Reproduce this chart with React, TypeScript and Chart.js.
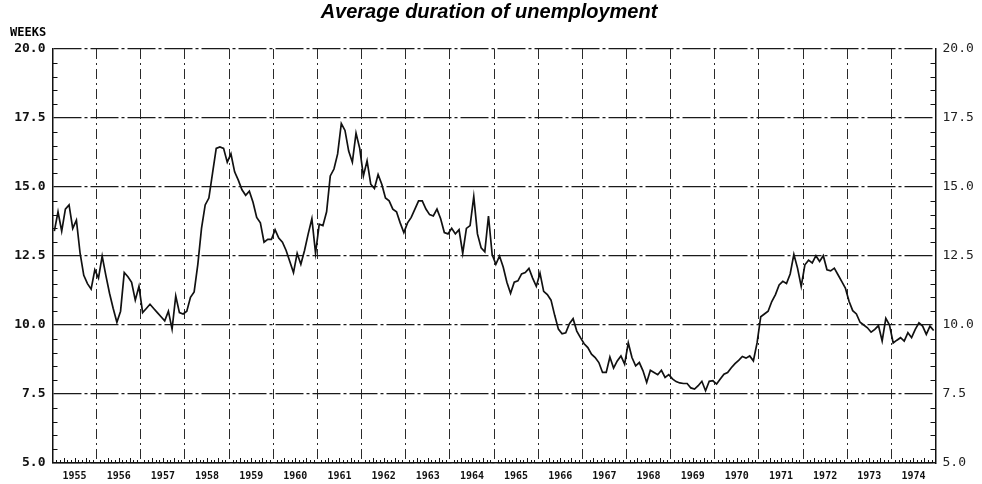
import React, { useEffect, useRef } from "react";
import { Chart, registerables } from "chart.js";

Chart.register(...registerables);

const TITLE = "Average duration of unemployment";
const UNIT_LABEL = "WEEKS";
const YEARS = [
  "1955", "1956", "1957", "1958", "1959", "1960", "1961", "1962", "1963", "1964",
  "1965", "1966", "1967", "1968", "1969", "1970", "1971", "1972", "1973", "1974",
];
const Y_TICKS = [5, 7.5, 10, 12.5, 15, 17.5, 20];

// Monthly average duration of unemployment (weeks)
const d1955 = [13.4, 14.1, 13.4, 14.2, 14.35, 13.5, 13.8, 12.6, 11.8, 11.5, 11.3, 12.0];
const d1956 = [11.7, 12.5, 11.8, 11.15, 10.6, 10.1, 10.5, 11.9, 11.75, 11.55, 10.9, 11.4];
const d1957 = [10.45, 10.6, 10.75, 10.6, 10.45, 10.3, 10.15, 10.5, 9.85, 11.05, 10.45, 10.4];
const d1958 = [10.5, 11.0, 11.2, 12.2, 13.5, 14.35, 14.6, 15.5, 16.4, 16.45, 16.4, 15.9];
const d1959 = [16.2, 15.55, 15.25, 14.9, 14.7, 14.85, 14.45, 13.9, 13.7, 13.0, 13.1, 13.1];
const d1960 = [13.45, 13.15, 13.0, 12.7, 12.3, 11.9, 12.6, 12.2, 12.7, 13.3, 13.85, 12.6];
const d1961 = [13.65, 13.6, 14.1, 15.4, 15.65, 16.2, 17.3, 17.05, 16.3, 15.9, 16.95, 16.4];
const d1962 = [15.4, 15.95, 15.1, 14.95, 15.45, 15.1, 14.6, 14.5, 14.2, 14.1, 13.7, 13.35];
const d1963 = [13.7, 13.9, 14.2, 14.5, 14.5, 14.2, 14.0, 13.95, 14.2, 13.85, 13.35, 13.3];
const d1964 = [13.5, 13.3, 13.45, 12.6, 13.5, 13.6, 14.65, 13.3, 12.8, 12.65, 13.95, 12.55];
const d1965 = [12.2, 12.5, 12.1, 11.55, 11.15, 11.55, 11.6, 11.85, 11.9, 12.05, 11.7, 11.4];
const d1966 = [11.88, 11.22, 11.1, 10.9, 10.35, 9.85, 9.68, 9.72, 10.05, 10.23, 9.78, 9.54];
const d1967 = [9.32, 9.18, 8.94, 8.82, 8.64, 8.28, 8.28, 8.84, 8.44, 8.7, 8.88, 8.58];
const d1968 = [9.35, 8.82, 8.52, 8.64, 8.34, 7.92, 8.36, 8.28, 8.2, 8.36, 8.1, 8.2];
const d1969 = [8.05, 7.95, 7.9, 7.88, 7.88, 7.72, 7.68, 7.8, 7.96, 7.62, 7.96, 7.98];
const d1970 = [7.86, 8.04, 8.22, 8.28, 8.45, 8.6, 8.72, 8.86, 8.8, 8.88, 8.7, 9.35];
const d1971 = [10.3, 10.4, 10.5, 10.85, 11.1, 11.45, 11.58, 11.5, 11.85, 12.56, 12.06, 11.4];
const d1972 = [12.18, 12.35, 12.25, 12.51, 12.3, 12.51, 12.0, 11.96, 12.06, 11.82, 11.58, 11.34];
const d1973 = [10.86, 10.52, 10.4, 10.1, 10.0, 9.9, 9.74, 9.84, 9.98, 9.42, 10.24, 10.0];
const d1974 = [9.35, 9.45, 9.54, 9.42, 9.72, 9.54, 9.84, 10.08, 9.96, 9.66, 9.96, 9.8];

const SERIES = [
  ...d1955, ...d1956, ...d1957, ...d1958, ...d1959, ...d1960, ...d1961,
  ...d1962, ...d1963, ...d1964, ...d1965, ...d1966, ...d1967, ...d1968,
  ...d1969, ...d1970, ...d1971, ...d1972, ...d1973, ...d1974,
];

const MONO = '"DejaVu Sans Mono", "Liberation Mono", monospace';

export default function App() {
  const ref = useRef<HTMLCanvasElement | null>(null);

  useEffect(() => {
    document.body.style.margin = "0";
    const canvas = ref.current;
    if (!canvas) return;

    const nMonths = YEARS.length * 12;
    const points = SERIES.map((v, i) => ({ x: i + 0.5, y: v }));
    const xTickValues: number[] = [];
    for (let i = 0; i <= YEARS.length; i++) {
      xTickValues.push(i * 12);
      if (i < YEARS.length) xTickValues.push(i * 12 + 6);
    }

    const decor = {
      id: "decor",
      afterDraw(chart: any) {
        const { ctx, chartArea: a, scales } = chart;
        const xs = scales.x;
        const ys = scales.y;
        ctx.save();
        ctx.strokeStyle = "#111";
        ctx.lineWidth = 1;
        ctx.beginPath();
        for (let m = 1; m < nMonths; m++) {
          if (m % 12 === 0) continue;
          const px = Math.round(xs.getPixelForValue(m)) + 0.5;
          const len = m % 3 === 0 ? 5 : 3;
          ctx.moveTo(px, a.bottom);
          ctx.lineTo(px, a.bottom - len);
        }
        for (let v = 5.5; v < 20; v += 0.5) {
          if (Math.abs(v / 2.5 - Math.round(v / 2.5)) < 1e-6) continue;
          const py = Math.round(ys.getPixelForValue(v)) + 0.5;
          ctx.moveTo(a.left, py);
          ctx.lineTo(a.left + 5, py);
          ctx.moveTo(a.right, py);
          ctx.lineTo(a.right - 5, py);
        }
        ctx.stroke();

        ctx.fillStyle = "#000";
        ctx.textAlign = "center";
        ctx.textBaseline = "middle";
        ctx.font = 'italic bold 20px "Liberation Sans", Arial, sans-serif';
        ctx.fillText(TITLE, 489, 12);

        ctx.textAlign = "left";
        ctx.font = `bold 12px ${MONO}`;
        ctx.fillText(UNIT_LABEL, 10, 33);
        ctx.restore();
      },
    };

    const yTickFmt = (v: any) => Number(v).toFixed(1);

    const chart = new Chart(canvas, {
      type: "line",
      data: {
        datasets: [
          {
            data: points,
            borderColor: "#111",
            borderWidth: 1.7,
            pointRadius: 0,
            tension: 0,
            fill: false,
            xAxisID: "x",
            yAxisID: "y",
          },
        ],
      },
      options: {
        responsive: false,
        maintainAspectRatio: false,
        animation: false,
        layout: { padding: { top: 49, left: 0, right: 0, bottom: 0 } },
        plugins: {
          legend: { display: false },
          tooltip: { enabled: false },
          title: { display: false },
        },
        scales: {
          x: {
            type: "linear",
            position: "bottom",
            min: 0,
            max: nMonths,
            afterBuildTicks: (s: any) => {
              s.ticks = xTickValues.map((v) => ({ value: v }));
            },
            afterFit: (s: any) => {
              s.height = 21;
            },
            ticks: {
              autoSkip: false,
              maxRotation: 0,
              minRotation: 0,
              padding: 7,
              color: "#111",
              font: { family: MONO, size: 10, weight: "bold" },
              callback: (v: any) => {
                const n = Number(v);
                return n % 12 === 6 ? YEARS[(n - 6) / 12] : "";
              },
            },
            grid: {
              drawTicks: false,
              lineWidth: 1,
              color: (c: any) =>
                c.tick && c.tick.value % 12 === 0 ? "#2a2a2a" : "rgba(0,0,0,0)",
            },
            border: { display: true, color: "#111", width: 1.5, dash: [10, 4, 2, 4] },
          },
          y: {
            type: "linear",
            position: "left",
            min: 5,
            max: 20,
            afterBuildTicks: (s: any) => {
              s.ticks = Y_TICKS.map((v) => ({ value: v }));
            },
            afterFit: (s: any) => {
              s.width = 52.5;
            },
            ticks: {
              padding: 7,
              color: "#111",
              font: { family: MONO, size: 13, weight: "bold" },
              callback: yTickFmt,
            },
            grid: { drawTicks: false, color: "#1a1a1a", lineWidth: 1.2 },
            border: { display: true, color: "#111", width: 1.5, dash: [28, 3, 3, 3] },
          },
          y2: {
            type: "linear",
            position: "right",
            min: 5,
            max: 20,
            afterBuildTicks: (s: any) => {
              s.ticks = Y_TICKS.map((v) => ({ value: v }));
            },
            afterFit: (s: any) => {
              s.width = 46.5;
            },
            ticks: {
              padding: 7,
              color: "#222",
              font: { family: MONO, size: 13 },
              callback: yTickFmt,
            },
            grid: { drawTicks: false, drawOnChartArea: false },
            border: { display: true, color: "#111", width: 1.5 },
          },
        },
      },
      plugins: [decor],
    } as any);

    return () => chart.destroy();
  }, []);

  return (
    <div style={{ position: "fixed", left: 0, top: 0, width: 982, height: 484, background: "#fff" }}>
      <canvas
        ref={ref}
        width={982}
        height={484}
        style={{ width: 982, height: 484, display: "block" }}
      />
    </div>
  );
}
